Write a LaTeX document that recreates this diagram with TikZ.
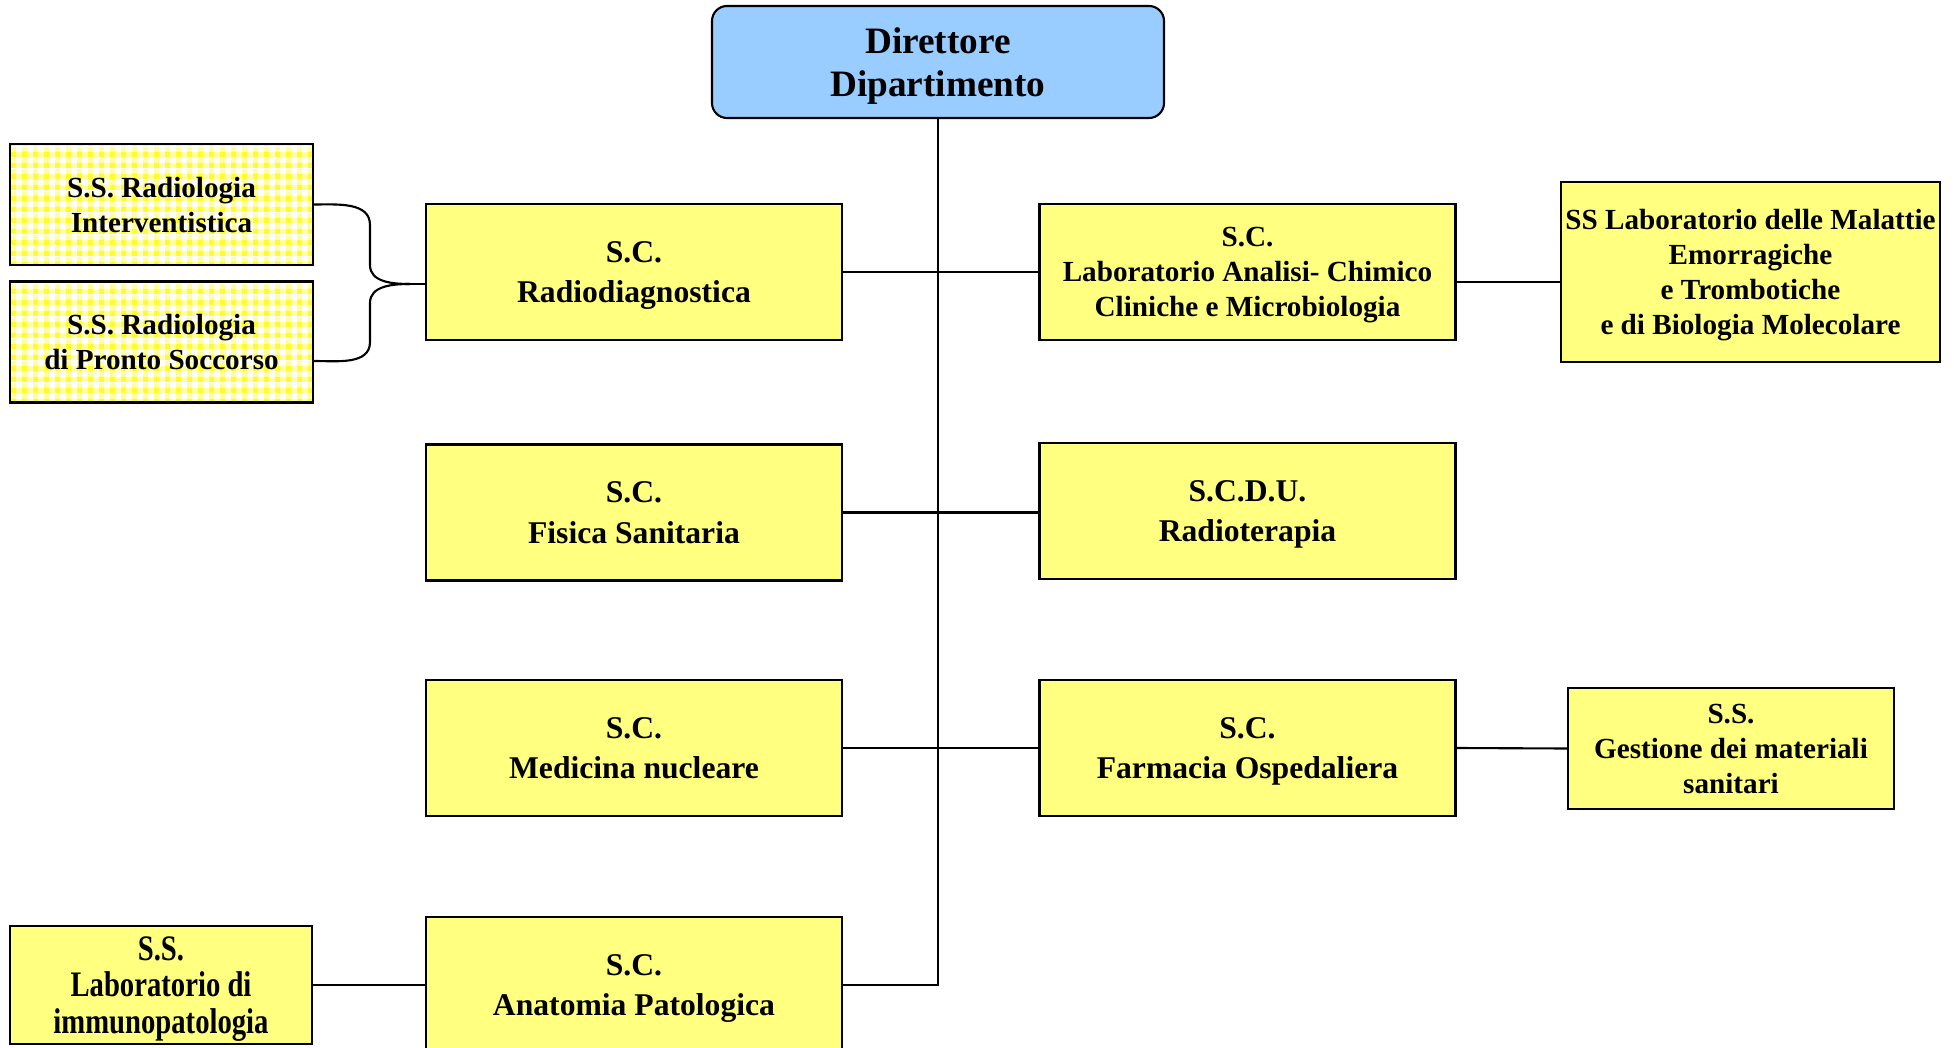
\documentclass[tikz,border=0pt]{standalone}
\usepackage{fontspec}
\setmainfont{Liberation Serif}
\newfontfamily\strettofont[FakeStretch=0.8]{Liberation Serif}
\usetikzlibrary{patterns}

\definecolor{giallo}{RGB}{255,255,128}
\definecolor{azzurro}{RGB}{153,204,255}
\definecolor{gingpieno}{RGB}{255,250,50}
\definecolor{ginglieve}{RGB}{255,255,160}

\pgfdeclarepatterninherentlycolored{quadretti}
  {\pgfpointorigin}{\pgfqpoint{3pt}{3pt}}{\pgfqpoint{3pt}{3pt}}
  {
    \pgfsetfillcolor{white}
    \pgfpathrectangle{\pgfpointorigin}{\pgfqpoint{3pt}{3pt}}
    \pgfusepath{fill}
    \pgfsetfillcolor{ginglieve}
    \pgfpathrectangle{\pgfpointorigin}{\pgfqpoint{1.5pt}{3pt}}
    \pgfpathrectangle{\pgfpointorigin}{\pgfqpoint{3pt}{1.5pt}}
    \pgfusepath{fill}
    \pgfsetfillcolor{gingpieno}
    \pgfpathrectangle{\pgfpointorigin}{\pgfqpoint{1.5pt}{1.5pt}}
    \pgfusepath{fill}
  }

\begin{document}
\begin{tikzpicture}[line width=0.6pt,
    sc/.style={draw, fill=giallo, minimum width=4.16cm, minimum height=1.36cm,
      inner sep=0pt, text depth=-1.3pt, align=center,
      font=\bfseries\fontsize{9}{11.4}\selectfont},
    ss/.style={draw, fill=giallo, inner sep=0pt, text depth=-1.1pt, align=center,
      font=\bfseries\fontsize{8.3}{10}\selectfont},
    ssquad/.style={ss, pattern=quadretti, minimum width=3.03cm, minimum height=1.21cm}]
    \useasboundingbox (0,0) rectangle (19.54,10.47);

    % Direzione
    \node[draw, fill=azzurro, rounded corners=0.15cm, minimum width=4.52cm,
      minimum height=1.12cm, inner sep=0pt, text depth=-1.1pt, align=center,
      font=\bfseries\fontsize{10.6}{12.4}\selectfont] (dir) at (9.38,9.85)
      {Direttore\\Dipartimento};

    % Strutture complesse
    \node[sc] (radio) at (6.34,7.75) {S.C.\\Radiodiagnostica};
    \node[sc, font=\bfseries\fontsize{8.3}{10}\selectfont] (lab) at (12.475,7.75)
      {S.C.\\Laboratorio Analisi- Chimico\\Cliniche e Microbiologia};
    \node[sc] (fis) at (6.34,5.345) {S.C.\\Fisica Sanitaria};
    \node[sc] (radiot) at (12.475,5.36) {S.C.D.U.\\Radioterapia};
    \node[sc] (med) at (6.34,2.99) {S.C.\\Medicina nucleare};
    \node[sc] (farm) at (12.475,2.99) {S.C.\\Farmacia Ospedaliera};
    \node[sc] (anat) at (6.34,0.62) {S.C.\\Anatomia Patologica};

    % Strutture semplici
    \node[ssquad] (ssint) at (1.615,8.425) {S.S. Radiologia\\Interventistica};
    \node[ssquad] (ssps) at (1.615,7.05) {S.S. Radiologia\\di Pronto Soccorso};
    \node[ss, minimum width=3.79cm, minimum height=1.80cm] (mal) at (17.505,7.75)
      {SS Laboratorio delle Malattie\\Emorragiche\\e Trombotiche\\e di Biologia Molecolare};
    \node[ss, minimum width=3.26cm, minimum height=1.21cm] (gest) at (17.31,2.985)
      {S.S.\\Gestione dei materiali\\sanitari};
    \node[ss, minimum width=3.02cm, minimum height=1.18cm,
      font=\strettofont\bfseries\fontsize{10.2}{10.3}\selectfont] (imm) at (1.61,0.62)
      {S.S.\\Laboratorio di\\immunopatologia};

    % Collegamenti
    \draw (dir.south) -- (dir.south |- anat.east) -- (anat.east);
    \draw (radio.east) -- (lab.west);
    \draw (fis.east) -- (fis.east -| radiot.west);
    \draw (med.east) -- (farm.west);
    \draw ([yshift=-1mm]lab.east) -- ([yshift=-1mm]mal.west);
    \draw (farm.east) -- (gest.west);
    \draw (imm.east) -- (anat.west);

    % Parentesi graffa
    \coordinate (punta) at (4.1,7.63);
    \draw (ssint.east) to[out=0,in=90] (3.70,8.22) -- (3.70,7.82)
      to[out=-90,in=180] (punta);
    \draw ([yshift=-1.9mm]ssps.east) to[out=0,in=-90] (3.70,7.05) -- (3.70,7.44)
      to[out=90,in=180] (punta);
    \draw (punta) -- (punta -| radio.west);
\end{tikzpicture}
\end{document}
